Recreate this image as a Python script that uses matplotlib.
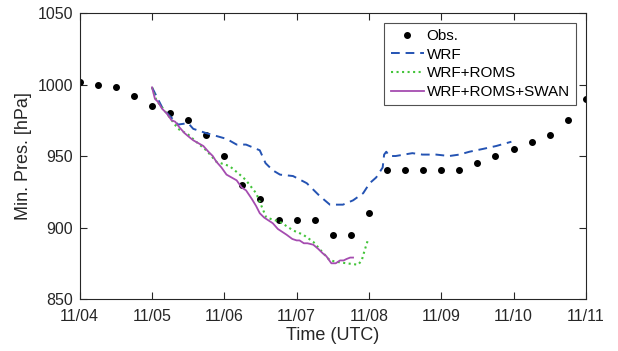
import matplotlib.pyplot as plt

# days since 11/04 00 UTC
obs_t = [0, 0.25, 0.5, 0.75, 1.0, 1.25, 1.5, 1.75, 2.0, 2.25, 2.5, 2.75, 3.0, 3.25, 3.5, 3.75,
         4.0, 4.25, 4.5, 4.75, 5.0, 5.25, 5.5, 5.75, 6.0, 6.25, 6.5, 6.75, 7.0]
obs_p = [1001.5, 1000, 998, 992, 985, 980, 975, 965, 950, 930, 920, 905, 905, 905, 895, 895,
         910, 940, 940, 940, 940, 940, 945, 950, 955, 960, 965, 975, 990]

wrf_t = [1.0, 1.15, 1.36, 1.5, 1.57, 1.75, 2.03, 2.17, 2.3, 2.49, 2.57, 2.67, 2.77, 2.95, 3.14,
         3.32, 3.46, 3.64, 3.78, 3.92, 4.01, 4.1, 4.19, 4.21, 4.24, 4.28, 4.37, 4.6, 4.74, 4.93,
         5.11, 5.25, 5.39, 5.58, 5.76, 5.9, 5.97]
wrf_p = [998, 983, 972, 973, 969, 966, 962, 958, 958, 954, 945, 940, 937, 936, 931,
         922, 916, 916, 919, 924, 931, 935, 942, 951, 953, 950, 950, 952, 951, 951,
         950, 951, 953, 955, 957, 959, 960]

roms_t = [1.0, 1.06, 1.2, 1.36, 1.5, 1.61, 1.75, 1.89, 2.07, 2.12, 2.26, 2.3, 2.44, 2.58, 2.77,
          2.95, 3.09, 3.23, 3.37, 3.46, 3.56, 3.69, 3.85, 3.9, 3.94, 3.99]
roms_p = [998, 989, 980, 969, 965, 960, 954, 946, 943, 941, 935, 933, 924, 907, 904,
          898, 895, 890, 882, 877, 876, 875, 874, 877, 884, 892]

swan_t = [1.0, 1.04, 1.08, 1.14, 1.2, 1.27, 1.32, 1.38, 1.45, 1.52, 1.57, 1.64, 1.71, 1.78,
          1.84, 1.89, 1.96, 2.03, 2.1, 2.17, 2.24, 2.3, 2.38, 2.44, 2.49, 2.55, 2.61, 2.67,
          2.74, 2.8, 2.86, 2.94, 3.0, 3.04, 3.1, 3.15, 3.23, 3.3, 3.36, 3.41, 3.48, 3.54,
          3.6, 3.65, 3.69, 3.74, 3.78]
swan_p = [998, 990, 988, 983, 980, 975, 974, 970, 966, 963, 961, 959, 957, 953,
          950, 946, 942, 937, 935, 933, 928, 926, 920, 915, 910, 907, 905, 903,
          899, 897, 895, 892, 891, 891, 889, 889, 888, 885, 882, 880, 875, 875,
          877, 877, 878, 879, 879]

day_labels = ['11/04', '11/05', '11/06', '11/07', '11/08', '11/09', '11/10', '11/11']

plt.rcParams['font.family'] = ['Liberation Sans', 'DejaVu Sans']
fig = plt.figure(figsize=(6.18, 3.51), dpi=100)
ax = fig.add_axes([0.129, 0.148, 0.819, 0.815])

ax.plot(obs_t, obs_p, 'o', color='black', markersize=4, label='Obs.')
ax.plot(wrf_t, wrf_p, '--', color='#2453b3', lw=1.4, dashes=(4.5, 3), label='WRF')
ax.plot(roms_t, roms_p, ':', color='#43c43a', lw=1.5, label='WRF+ROMS')
ax.plot(swan_t, swan_p, '-', color='#a54cb0', lw=1.3, label='WRF+ROMS+SWAN')

ax.set_xlim(0, 7)
ax.set_ylim(850, 1050)
ax.set_xticks(range(len(day_labels)))
ax.set_xticklabels(day_labels)
ax.set_yticks([850, 900, 950, 1000, 1050])
ax.tick_params(direction='in', top=True, right=True, labelsize=11.5, length=5, colors='#262626')
ax.tick_params(axis='x', pad=7.5)
ax.tick_params(axis='y', pad=5)
for s in ax.spines.values():
    s.set_color('#262626')
ax.set_xlabel('Time (UTC)', fontsize=13, color='#262626', labelpad=2)
ax.set_ylabel('Min. Pres. [hPa]', fontsize=13, color='#262626', labelpad=4)

leg = ax.legend(loc='upper right', fontsize=11, frameon=True, fancybox=False,
                edgecolor='#262626', borderpad=0.4, labelspacing=0.3, handlelength=2.2,
                handletextpad=0.15, borderaxespad=0, bbox_to_anchor=(0.98, 0.965))
leg.get_frame().set_linewidth(0.8)

plt.savefig('out.png')
